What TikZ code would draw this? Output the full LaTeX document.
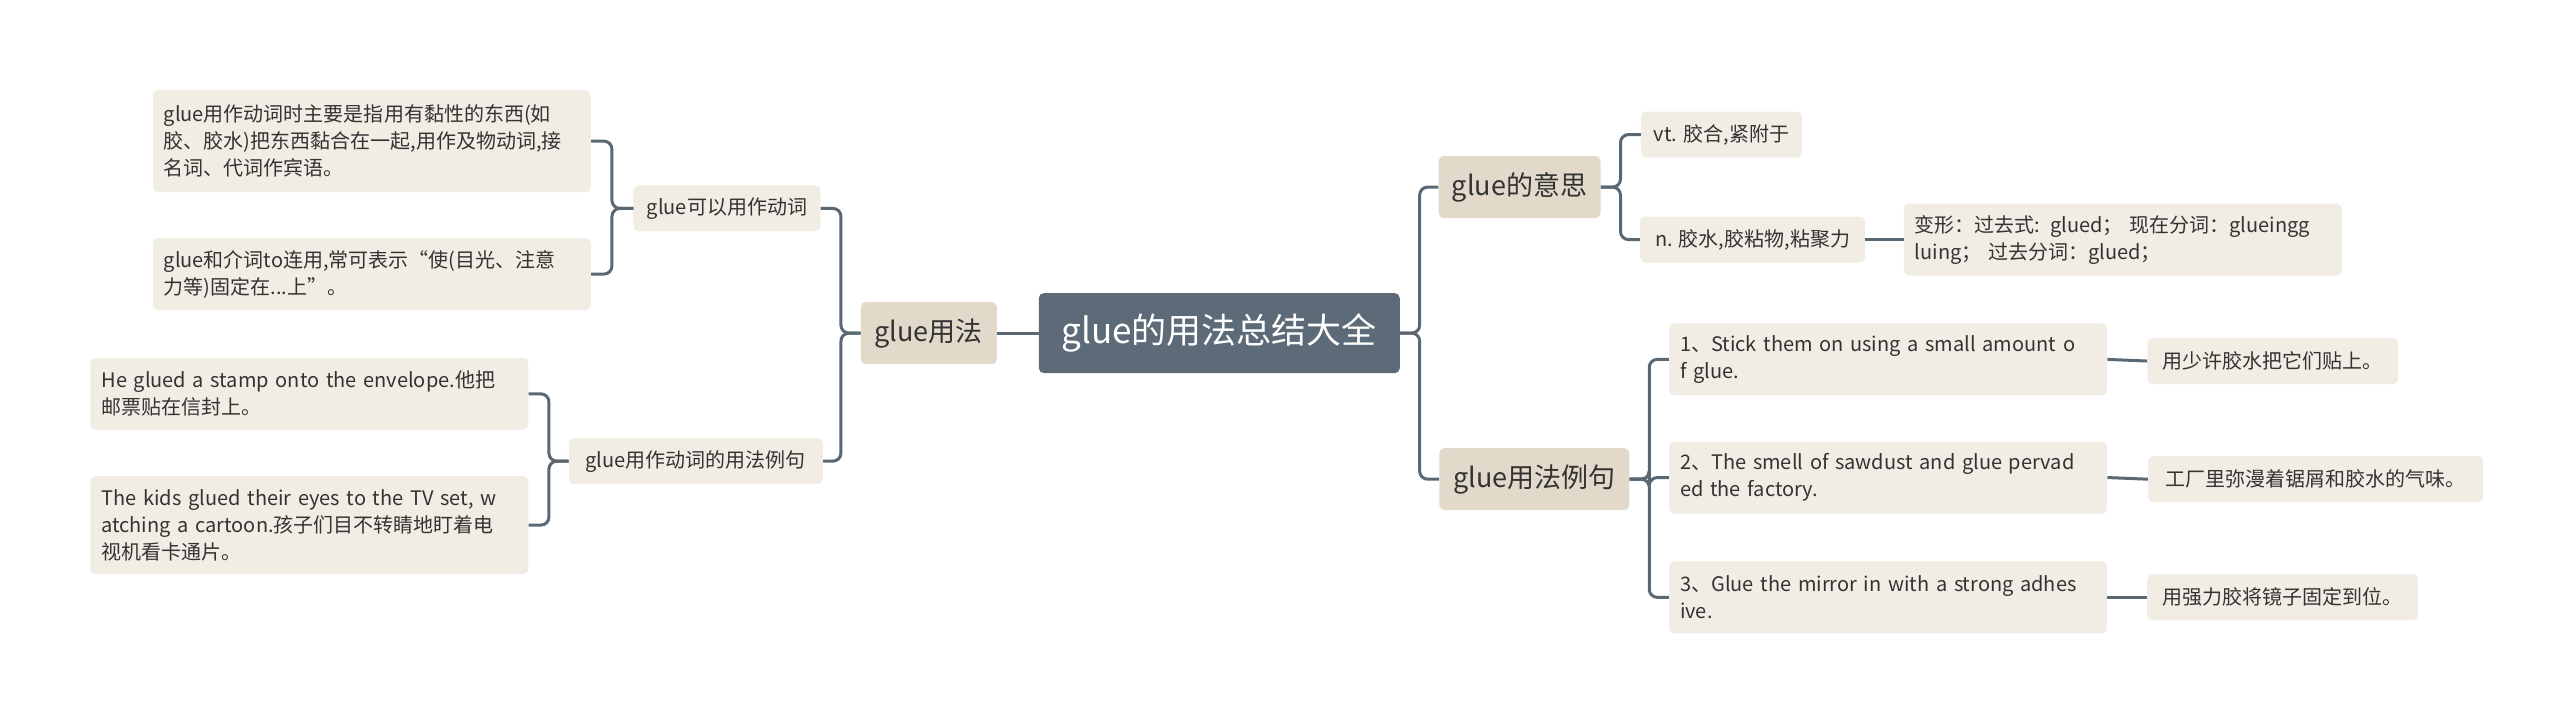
\documentclass[tikz,border=0pt]{standalone}
\usepackage{fontspec}
\setmainfont{Noto Sans CJK SC}
\usetikzlibrary{positioning}
\XeTeXlinebreaklocale "zh"
\XeTeXlinebreakskip=0pt plus 1pt
\definecolor{rootfill}{HTML}{5C6B77}
\definecolor{mainfill}{HTML}{E2D9CB}
\definecolor{leaffill}{HTML}{F1EDE5}
\definecolor{linecol}{HTML}{5A6874}
\definecolor{textcol}{HTML}{333333}

\begin{document}
\begin{tikzpicture}[x=1.641pt, y=-1.641pt,
  rootbox/.style={rectangle, rounded corners=5pt, fill=rootfill, text=white,
    font=\fontsize{35}{42}\selectfont, minimum width=361pt, minimum height=80pt},
  mainbox/.style={rectangle, rounded corners=5pt, fill=mainfill, text=textcol,
    font=\fontsize{27}{33}\selectfont, minimum height=62pt},
  subbox/.style={rectangle, rounded corners=5pt, fill=leaffill, text=textcol,
    font=\fontsize{20}{27}\selectfont, minimum height=46pt},
  leafbox/.style={rectangle, rounded corners=5pt, fill=leaffill, text=textcol,
    font=\fontsize{20}{27}\selectfont, align=left, text width=416pt,
    inner sep=11pt, anchor=west},
  conn/.style={draw=linecol, line width=3pt, rounded corners=8pt}]
  \useasboundingbox (0,0) rectangle (1560,440.6);

  % centre
  \node[rootbox] (root) at (743,203) {glue的用法总结大全};

  % left side
  \node[mainbox, minimum width=136pt] (use) at (566,203) {glue用法};
  \node[subbox, minimum width=187pt] (verb) at (443,127) {glue可以用作动词};
  \node[subbox, minimum width=254pt] (verbex) at (424,281) {glue用作动词的用法例句};
  \node[leafbox, minimum height=102pt] (note1) at (93,86)
    {glue用作动词时主要是指用有黏性的东西(如\\胶、胶水)把东西黏合在一起,用作及物动词,接\\名词、代词作宾语。};
  \node[leafbox, minimum height=72pt] (note2) at (93,167)
    {glue和介词to连用,常可表示“使(目光、注意\\力等)固定在...上”。};
  \node[leafbox, minimum height=72pt] (sent1) at (55,240)
    {He glued a stamp onto the envelope.他把\\邮票贴在信封上。};
  \node[leafbox, minimum height=98pt] (sent2) at (55,320)
    {The kids glued their eyes to the TV set, w\\atching a cartoon.孩子们目不转睛地盯着电\\视机看卡通片。};

  % right side
  \node[mainbox, minimum width=162pt] (mean) at (926,114) {glue的意思};
  \node[mainbox, minimum width=190pt] (usage) at (935,292) {glue用法例句};
  \node[subbox, minimum width=161pt] (vt) at (1049,82) {vt. 胶合,紧附于};
  \node[subbox, minimum width=225pt] (noun) at (1068,146) {n. 胶水,胶粘物,粘聚力};
  \node[leafbox, minimum height=72pt] (forms) at (1160,146)
    {变形：过去式: glued； 现在分词：glueingg\\luing； 过去分词：glued；};
  \node[leafbox, minimum height=72pt] (ex1) at (1017,219)
    {1、Stick them on using a small amount o\\f glue.};
  \node[leafbox, minimum height=72pt] (ex2) at (1017,291)
    {2、The smell of sawdust and glue pervad\\ed the factory.};
  \node[leafbox, minimum height=72pt] (ex3) at (1017,364)
    {3、Glue the mirror in with a strong adhes\\ive.};
  \node[subbox, minimum width=251pt] (zh1) at (1385,220) {用少许胶水把它们贴上。};
  \node[subbox, minimum width=335pt] (zh2) at (1411,292) {工厂里弥漫着锯屑和胶水的气味。};
  \node[subbox, minimum width=271pt] (zh3) at (1391,364) {用强力胶将镜子固定到位。};

  % connectors
  \draw[conn] (root.west) -- (use.east);
  \draw[conn] (use.west) -- ++(-12,0) |- (verb.east);
  \draw[conn] (use.west) -- ++(-12,0) |- (verbex.east);
  \draw[conn] (verb.west) -- ++(-13,0) |- (note1.east);
  \draw[conn] (verb.west) -- ++(-13,0) |- (note2.east);
  \draw[conn] (verbex.west) -- ++(-12,0) |- (sent1.east);
  \draw[conn] (verbex.west) -- ++(-12,0) |- (sent2.east);
  \draw[conn] (root.east) -- ++(12,0) |- (mean.west);
  \draw[conn] (root.east) -- ++(12,0) |- (usage.west);
  \draw[conn] (mean.east) -- ++(12,0) |- (vt.west);
  \draw[conn] (mean.east) -- ++(12,0) |- (noun.west);
  \draw[conn] (noun.east) -- (forms.west);
  \foreach \i in {1,2,3} {
    \draw[conn] (usage.east) -- ++(12,0) |- (ex\i.west);
    \draw[conn] (ex\i.east) -- (zh\i.west);
  }
\end{tikzpicture}
\end{document}
